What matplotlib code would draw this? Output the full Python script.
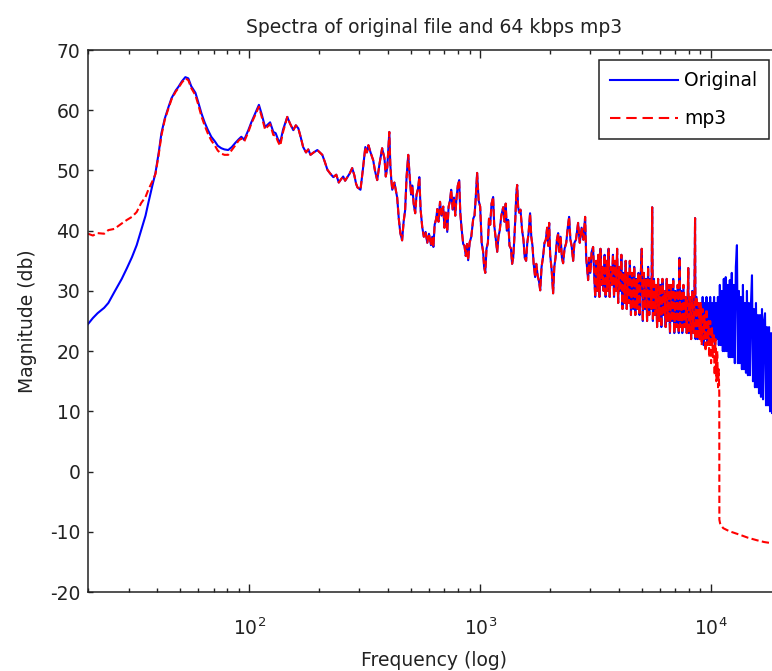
import matplotlib

matplotlib.use("Agg")
import matplotlib.pyplot as plt
import numpy as np
from matplotlib.lines import Line2D
from matplotlib.ticker import LogLocator, NullFormatter, FixedLocator


TITLE = "Spectra of original file and 64 kbps mp3"
X_LABEL = "Frequency (log)"
Y_LABEL = "Magnitude (db)"
SERIES_LABELS = ["Original", "mp3"]
X_LIMITS = (20, 20000)
Y_LIMITS = (-20, 70)
Y_TICKS = [-20, -10, 0, 10, 20, 30, 40, 50, 60, 70]

# low end, where the two spectra differ (Hz / dB)
LOW_FREQ = [
    20, 21, 22, 23.5, 24.5, 26, 28, 29.5, 31, 32.5,
    34, 35.5, 36.5, 38, 39.2, 40.5, 41.6, 43, 44.6, 46,
    48, 49.3, 51, 52.8, 54.4, 56, 58.4, 60, 62, 64,
    66, 68.4, 71, 73, 75.6, 78, 81, 84, 87, 90,
    92.3, 95, 99, 102, 106, 110, 113, 117, 120, 123,
    127, 130, 133, 136, 140,
]
ORIG_LOW_DB = [
    24.5, 25.5, 26.3, 27.2, 28.0, 29.8, 32.0, 33.8, 35.6, 37.6,
    40.1, 42.5, 44.6, 47.5, 49.6, 53.0, 56.2, 58.6, 60.5, 62.0,
    63.3, 63.9, 64.8, 65.5, 65.3, 64.0, 62.9, 61.4, 59.5, 58.0,
    56.8, 55.6, 54.8, 54.1, 53.7, 53.5, 53.4, 53.9, 54.6, 55.2,
    55.6, 55.1, 56.7, 58.0, 59.5, 60.9, 59.4, 57.2, 57.6, 58.0,
    56.4, 56.2, 55.2, 54.6, 56.8,
]
MP3_LOW_DB = [
    39.5, 39.2, 39.6, 39.5, 40.1, 40.3, 41.2, 41.8, 42.3, 43.1,
    44.6, 45.6, 46.8, 48.2, 49.4, 52.7, 55.8, 58.4, 60.3, 61.8,
    63.1, 63.7, 64.6, 65.3, 65.0, 63.7, 62.5, 61.0, 59.0, 57.5,
    56.2, 55.0, 54.1, 53.3, 52.8, 52.6, 52.6, 53.4, 54.2, 55.0,
    55.3, 54.8, 56.4, 57.8, 59.2, 60.6, 59.0, 56.8, 57.3, 57.7,
    55.9, 55.8, 54.8, 54.1, 56.4,
]

# middle band, both spectra nearly identical
MID_FREQ = [
    146, 150, 155, 159, 163, 167, 171, 176, 180, 184,
    190, 197, 202, 207, 212, 218, 224, 231, 238, 244,
    248, 255, 260, 266, 272, 279, 285, 290, 294, 303,
    310, 318, 323, 328, 335, 344, 350, 358, 366, 376,
    385, 390, 396, 404, 408, 412, 416, 425, 437, 444,
    451, 459, 466, 473, 480, 488, 495, 502, 508, 515,
    523, 530, 538, 545, 552, 561, 570, 580, 590, 600,
    612, 620, 627, 635, 645, 652, 660, 670, 680, 692,
    700, 710, 720, 730, 740, 749, 760, 770, 780, 790,
    800, 811, 820, 830, 844, 855, 866, 877, 887, 900,
    915, 933, 945, 955, 970, 985, 1000, 1015, 1030, 1040,
    1052, 1065, 1080, 1092, 1105, 1120, 1138, 1150, 1165, 1185,
    1200, 1215, 1235, 1258, 1275, 1290, 1305, 1322, 1340, 1360,
    1375, 1390, 1405, 1420, 1433, 1446, 1460, 1475, 1495, 1520,
    1540, 1560, 1581, 1600, 1620, 1645, 1665, 1685, 1705, 1730,
    1750, 1775, 1800, 1820, 1845, 1870, 1900, 1925, 1950, 1970,
    1990, 2010, 2040, 2070, 2095, 2120, 2150, 2177, 2200, 2230,
    2260, 2287, 2320, 2360, 2395, 2428, 2460, 2490, 2528, 2560,
    2600, 2656, 2700, 2750, 2800, 2849, 2880, 2910, 2935, 2965,
    3000, 3040, 3085, 3120, 3150,
]
MID_DB = [
    58.9, 57.8, 56.7, 57.5, 57.0, 55.5, 53.9, 53.0, 53.5, 52.6,
    53.0, 53.4, 53.0, 52.6, 51.5, 50.1, 49.5, 48.9, 49.3, 48.0,
    48.4, 49.0, 48.3, 48.9, 49.5, 50.4, 49.2, 47.8, 47.2, 46.8,
    50.0, 53.9, 53.0, 54.2, 53.0, 51.7, 50.0, 48.4, 51.0, 53.7,
    52.0, 49.0, 50.6, 56.4, 51.0, 48.5, 46.8, 48.0, 45.5, 42.0,
    39.6, 38.4, 41.5, 43.4, 49.0, 52.6, 49.0, 46.0, 47.5, 44.5,
    42.9, 46.0, 47.0, 48.9, 43.5, 40.6, 39.0, 39.8, 38.0, 39.5,
    37.6, 39.0, 37.3, 41.0, 42.0, 43.6, 41.5, 44.8, 42.5, 44.0,
    40.5, 43.0, 39.8, 44.0, 45.0, 46.8, 43.5, 45.5, 42.5, 45.5,
    47.5, 48.4, 43.0, 40.5, 37.8, 37.5, 35.8, 37.8, 35.1, 38.0,
    39.0, 42.0, 42.5, 45.0, 49.6, 45.0, 44.0, 38.0, 36.5, 34.0,
    33.0, 37.0, 38.0, 42.0, 41.0, 44.5, 45.6, 41.0, 39.0, 36.5,
    39.0, 40.0, 42.5, 43.9, 41.5, 44.5, 40.0, 41.8, 37.5, 37.0,
    34.5, 35.5, 38.5, 42.0, 46.0, 47.6, 44.0, 43.0, 43.5, 40.0,
    38.5, 35.5, 35.0, 38.0, 39.5, 42.9, 39.0, 37.5, 34.5, 32.3,
    34.5, 32.5, 31.5, 30.1, 34.0, 35.5, 38.0, 38.5, 40.5, 37.5,
    41.3, 36.0, 33.5, 29.6, 34.0, 35.5, 38.5, 39.6, 36.5, 39.0,
    35.5, 34.6, 37.0, 38.0, 40.5, 42.3, 38.5, 37.5, 35.0, 38.0,
    38.5, 41.3, 38.0, 40.5, 38.5, 42.3, 35.5, 33.5, 31.8, 35.5,
    33.0, 36.5, 37.3, 32.5, 29.0,
]

# dense upper band, shared
BAND_FREQ = [
    3180, 3215, 3250, 3285, 3320, 3355, 3390, 3425, 3460, 3495,
    3530, 3565, 3600, 3640, 3680, 3720, 3760, 3800, 3840, 3880,
    3920, 3960, 4000, 4045, 4090, 4135, 4180, 4225, 4270, 4315,
    4360, 4405, 4450, 4500, 4550, 4600, 4650, 4700, 4750, 4800,
    4850, 4900, 4955, 5010, 5065, 5120, 5175, 5230, 5285, 5340,
    5400, 5460, 5520, 5560, 5600, 5660, 5720, 5780, 5840, 5900,
    5965, 6030, 6095, 6160, 6225, 6290, 6360, 6430, 6500, 6570,
    6640, 6710, 6785, 6860, 6935, 7010, 7090, 7170, 7250, 7300,
    7350, 7430, 7510, 7595, 7680, 7765, 7850, 7935, 7970, 8020,
    8110, 8200, 8290, 8380, 8470, 8530, 8570, 8660, 8750, 8840,
    8930,
]
BAND_DB = [
    35, 30, 36, 29, 37, 31, 34, 30, 36, 29,
    35, 30, 37, 29, 34, 31, 36, 29, 35, 30,
    37, 28, 34, 30, 36, 27, 33, 28, 35, 27,
    33, 28, 35, 26, 33, 27, 34, 26, 32, 27,
    33, 26, 32, 37, 25, 33, 27, 32, 25, 34,
    26, 32, 27, 43.9, 25, 32, 26, 31, 24, 32,
    25, 31, 24, 32, 26, 30, 24, 32, 25, 31,
    23, 31, 25, 32, 23, 30, 24, 31, 23, 35.5,
    24, 30, 23, 31, 24, 29, 23, 30, 33.8, 23,
    29, 22, 30, 23, 28, 42.1, 22, 29, 22, 28,
    22,
]

# top end: mp3 is cut off near 11 kHz
MP3_HIGH_FREQ = [
    9020, 9110, 9200, 9290, 9380, 9470, 9560, 9650, 9740, 9830,
    9920, 10010, 10100, 10190, 10280, 10370, 10460, 10550, 10640, 10730,
    10800, 10860, 10870, 10950, 11100, 11300, 12000, 13350, 14500, 15800,
    17000, 18370, 20000,
]
MP3_HIGH_DB = [
    28, 21, 27, 22, 26, 20, 27, 21, 25, 19,
    25, 18, 24, 19, 23, 16, 22, 15, 20, 14,
    17, 13, -8.0, -8.6, -9.0, -9.4, -9.9, -10.5, -11.0, -11.4,
    -11.7, -11.9, -12.1,
]
ORIG_HIGH_FREQ = [
    9020, 9110, 9200, 9290, 9380, 9470, 9560, 9650, 9740, 9830,
    9920, 10010, 10110, 10210, 10310, 10410, 10510, 10610, 10710, 10810,
    10920, 11030, 11140, 11250, 11360, 11470, 11580, 11700, 11820, 11940,
    12060, 12180, 12300, 12420, 12550, 12680, 12810, 12950, 13080, 13210,
    13340, 13470, 13610, 13750, 13890, 14030, 14170, 14310, 14450, 14600,
    14750, 14900, 15050, 15200, 15350, 15500, 15660, 15820, 15980, 16140,
    16300, 16460, 16630, 16800, 16970, 17140, 17310, 17480, 17660, 17840,
    18020, 18200, 18380, 18560, 18750, 18940, 19130, 19320, 19520, 19720,
    19920,
]
ORIG_HIGH_DB = [
    28, 22, 29, 21, 28, 22, 29, 21, 28, 22,
    29, 21, 28, 22, 29, 21, 28, 22, 29, 21,
    31, 21, 30, 20, 32, 20, 32.3, 20, 31, 19,
    31.8, 19, 33, 19, 31, 18, 34, 37.6, 18, 30,
    18, 29, 17, 31, 17, 28, 16.4, 30, 16, 28,
    16, 28, 32.6, 15, 27, 14, 28, 14, 26, 13,
    26, 12.4, 27, 12, 25, 26.3, 11, 24, 11, 24,
    10, 23, 9.7, 23, 9, 22, 8.5, 22, 8, 21,
    8,
]

INK = "#222222"
LINE_WIDTH = 1.5
MP3_DASHES = (3.5, 1.6)


def main() -> None:
    plt.rcParams["font.family"] = ["DejaVu Sans"]
    plt.rcParams["mathtext.fontset"] = "dejavusans"
    plt.rcParams["axes.unicode_minus"] = False

    orig_f = np.concatenate([LOW_FREQ, MID_FREQ, BAND_FREQ, ORIG_HIGH_FREQ])
    orig_db = np.concatenate([ORIG_LOW_DB, MID_DB, BAND_DB, ORIG_HIGH_DB])
    mp3_f = np.concatenate([LOW_FREQ, MID_FREQ, BAND_FREQ, MP3_HIGH_FREQ])
    mp3_db = np.concatenate([MP3_LOW_DB, MID_DB, BAND_DB, MP3_HIGH_DB])

    fig = plt.figure(figsize=(7.72, 6.71), dpi=100)
    # axes run a little past the right edge of the picture, like the cropped original
    ax = fig.add_axes([0.114, 0.1177, 0.897, 0.8077])

    ax.plot(orig_f, orig_db, color="#0000ff", linewidth=LINE_WIDTH)
    ax.plot(mp3_f, mp3_db, color="#ff0000", linewidth=LINE_WIDTH, dashes=MP3_DASHES)

    ax.set_xscale("log")
    ax.set_xlim(*X_LIMITS)
    ax.set_ylim(*Y_LIMITS)
    ax.yaxis.set_major_locator(FixedLocator(Y_TICKS))
    ax.xaxis.set_major_locator(LogLocator(base=10, numticks=10))
    ax.xaxis.set_minor_locator(LogLocator(base=10, subs=np.arange(2, 10), numticks=20))
    ax.xaxis.set_minor_formatter(NullFormatter())

    ax.tick_params(axis="both", which="both", direction="in", top=True, right=True,
                   labelsize=13.5, colors=INK)
    ax.tick_params(axis="x", which="major", length=5.8, width=1.0, pad=18)
    ax.tick_params(axis="x", which="minor", length=3, width=1.0)
    ax.tick_params(axis="y", which="major", length=3.8, width=1.0, pad=5.5)
    for spine in ax.spines.values():
        spine.set_linewidth(1.1)
        spine.set_color(INK)

    ax.set_title(TITLE, fontsize=13.5, pad=12, color=INK)
    ax.set_xlabel(X_LABEL, fontsize=13.5, color=INK)
    ax.xaxis.set_label_coords(0.5, -0.108)
    ax.set_ylabel(Y_LABEL, fontsize=13.5, color=INK)
    ax.yaxis.set_label_coords(-0.0736, 0.5)

    handles = [
        Line2D([], [], color="#0000ff", linewidth=LINE_WIDTH),
        Line2D([], [], color="#ff0000", linewidth=LINE_WIDTH, dashes=(5, 2.8)),
    ]
    legend = ax.legend(handles, SERIES_LABELS, loc="upper left",
                       bbox_to_anchor=(0.7377, 0.9815), borderaxespad=0,
                       fancybox=False, framealpha=1, edgecolor=INK, fontsize=13.5,
                       handlelength=3.6, handletextpad=0.35, labelspacing=1.0, borderpad=0.6)
    legend.get_frame().set_linewidth(1.1)

    fig.savefig("out.png", dpi=100)
    plt.close(fig)


if __name__ == "__main__":
    main()
